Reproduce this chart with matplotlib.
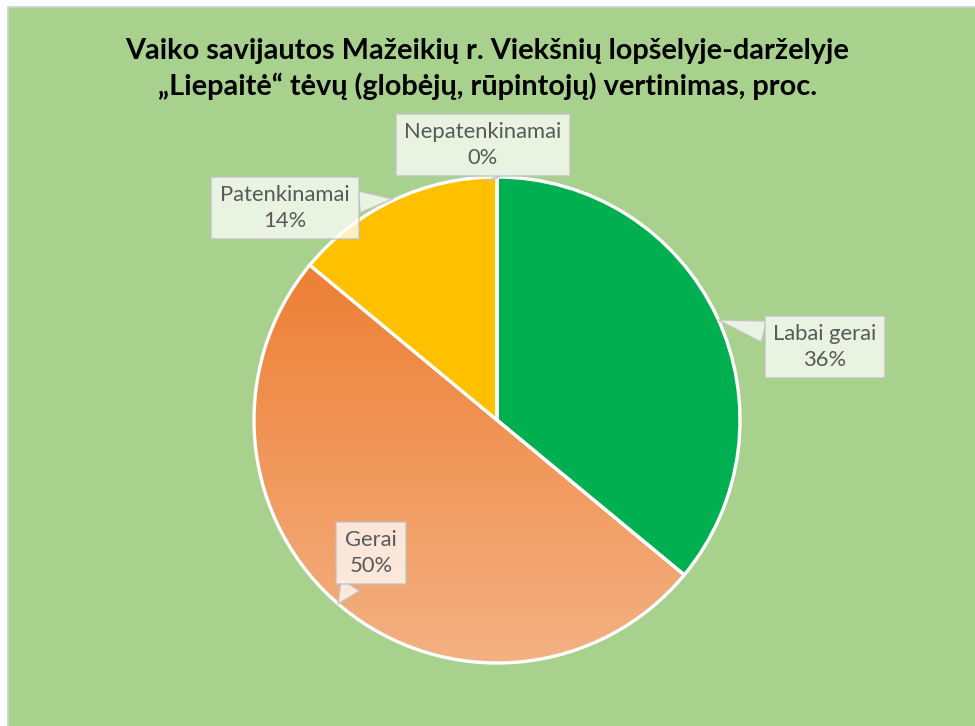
import numpy as np
import matplotlib.pyplot as plt
from matplotlib.patches import Rectangle
from matplotlib.colors import LinearSegmentedColormap

plt.rcParams['font.family'] = ['Lato', 'DejaVu Sans']

# ------------------------------------------------------------------
# data
# ------------------------------------------------------------------
title = ("Vaiko savijautos Mažeikių r. Viekšnių lopšelyje-darželyje\n"
         "„Liepaitė“ tėvų (globėjų, rūpintojų) vertinimas, proc.")
categories = ["Labai gerai", "Gerai", "Patenkinamai", "Nepatenkinamai"]
values = [36, 50, 14, 0]
colors = ["#00B050", "#ED7D31", "#FFC000", "#A5A5A5"]

W, H = 975, 726
fig = plt.figure(figsize=(W / 100, H / 100), dpi=100)
fig.patch.set_facecolor("white")

# chart area background with thin gray frame
fig.add_artist(Rectangle((7.5 / W, -0.01), 1.02, (H - 6.5) / H + 0.01,
                         transform=fig.transFigure, facecolor="#A9D18E",
                         edgecolor="#D0D0D0", linewidth=1.2, zorder=-10))

fig.text(0.5, 1 - 69 / H, title, ha="center", va="center", fontsize=20.8,
         fontweight="bold", color="black", linespacing=1.38)

# pie axes: centre (497, 420) px, radius 243 px
cx, cy, r = 497, H - 420, 243
ax = fig.add_axes([(cx - r) / W, (cy - r) / H, 2 * r / W, 2 * r / H])
ax.set_xlim(-1, 1)
ax.set_ylim(-1, 1)
ax.set_aspect("equal")
ax.axis("off")

wedges, _ = ax.pie(values, colors=colors, startangle=90, counterclock=False,
                   radius=1, wedgeprops=dict(edgecolor="white", linewidth=2.4))

# gradient fill for "Gerai"
g = wedges[1]
cmap = LinearSegmentedColormap.from_list("g", ["#ED7D31", "#F4B183"])
grad = np.linspace(0, 1, 256).reshape(-1, 1)
g.set_facecolor("none")
im = ax.imshow(grad, cmap=cmap, extent=[-1, 1, -1, 0.7], origin="upper",
               aspect="auto", zorder=0.5)
im.set_clip_path(g)
ax.set_xlim(-1, 1)
ax.set_ylim(-1, 1)

# label callouts: (box centre px, pointer target px)
label_pos = [(825, 347), (371, 553), (285, 208), (483, 145)]
point_pos = [(718, 320), (338, 604), (393, 199), (497, 178)]


def px2data(p):
    return ((p[0] - cx) / r, (cy - (H - p[1])) / -r)


for cat, v, lp, pp in zip(categories, values, label_pos, point_pos):
    tx, ty = px2data(lp)
    ptx, pty = px2data(pp)
    ax.annotate(f"{cat}\n{v}%", xy=(ptx, pty), xytext=(tx, ty),
                ha="center", va="center", fontsize=15.8, color="#595959",
                linespacing=1.32, annotation_clip=False, zorder=5,
                bbox=dict(boxstyle="square,pad=0.4", facecolor="white",
                          alpha=0.75, edgecolor="#BFBFBF", linewidth=1.2),
                arrowprops=dict(arrowstyle="wedge,tail_width=1.0",
                                facecolor="white", alpha=0.75,
                                edgecolor="#BFBFBF", linewidth=1.2,
                                shrinkA=0, shrinkB=0))

fig.savefig("out.png", dpi=100)
